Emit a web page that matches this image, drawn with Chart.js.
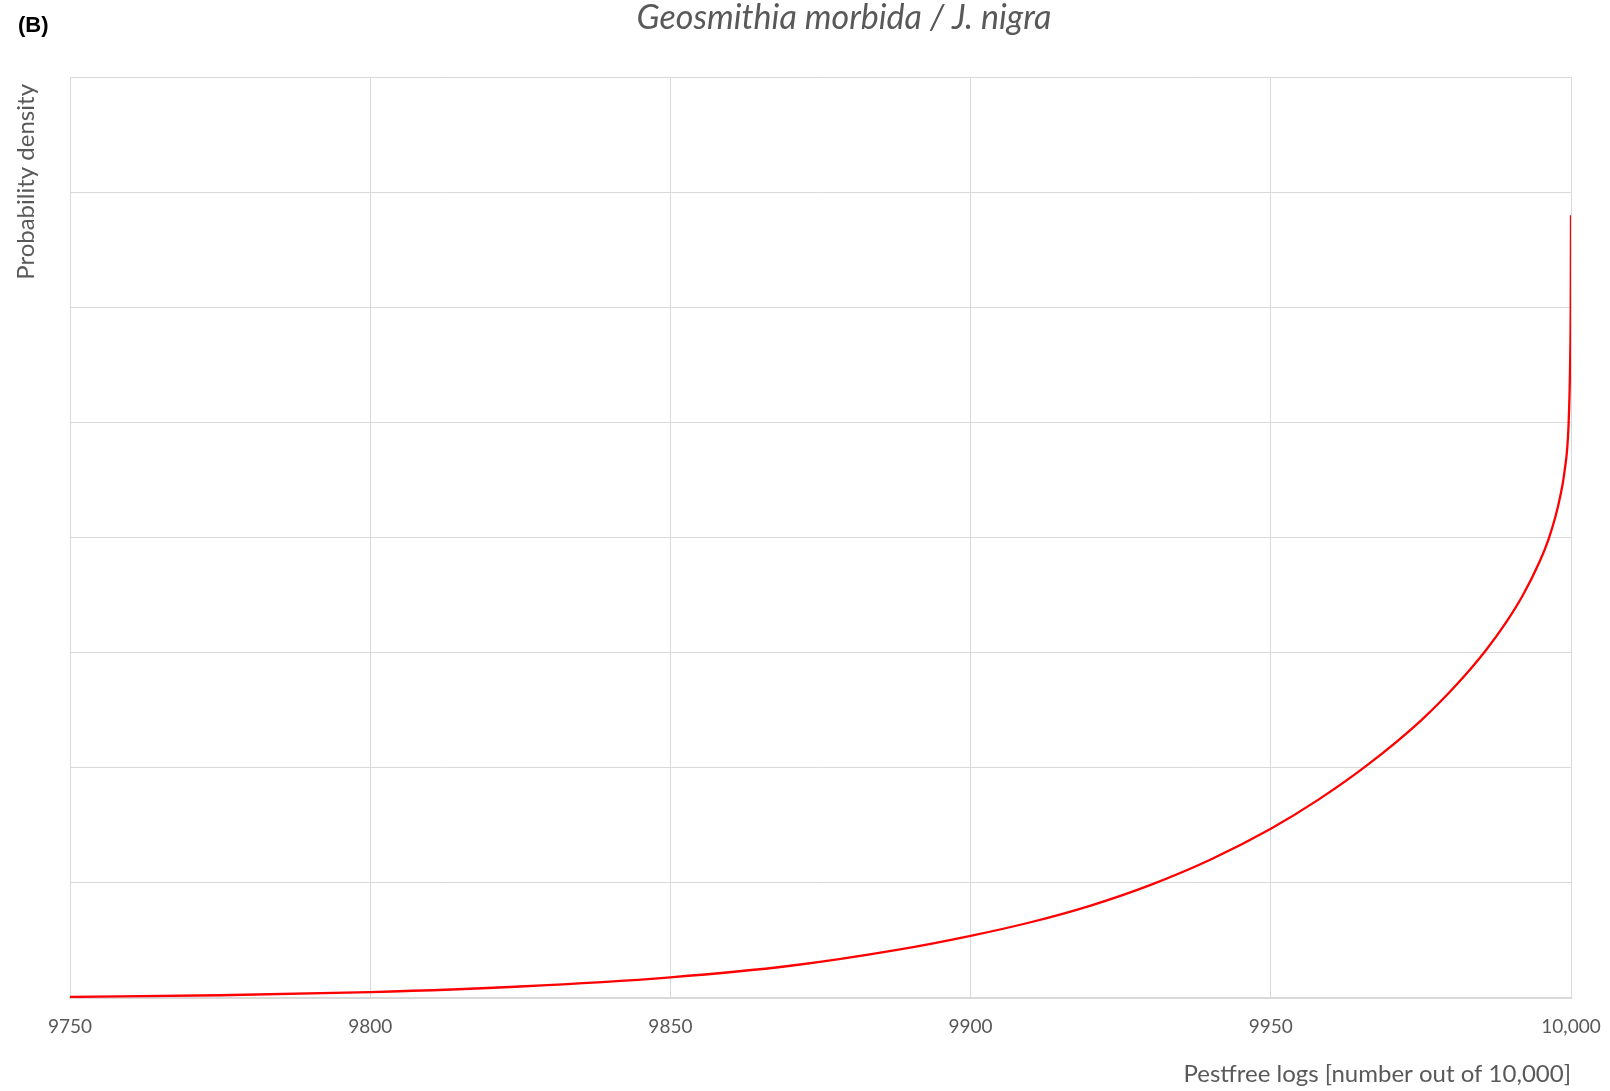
<!DOCTYPE html>
<html>
<head>
<meta charset="utf-8">
<script src="https://cdn.jsdelivr.net/npm/chart.js@4.4.1/dist/chart.umd.min.js"></script>
<style>
  html, body { margin:0; padding:0; background:#fff; }
  #wrap { width:1610px; height:1091px; }
</style>
</head>
<body>
<div id="wrap"><canvas id="densChart" width="1610" height="1091"></canvas></div>
<script>
// values (y in gridline units, axis has no labels)
const pestfreeLogs = [9750, 9775, 9800, 9825, 9850, 9870, 9888, 9900, 9910, 9920, 9930, 9940, 9950,
  9958, 9966, 9975, 9981, 9985.7, 9989.3, 9992, 9994.8, 9996.2, 9997.4, 9998.2, 9998.9,
  9999.6, 9999.85, 9999.95, 10000];
const density = [0.009, 0.024, 0.051, 0.1, 0.18, 0.28, 0.42, 0.54, 0.658, 0.803, 0.983, 1.203, 1.47,
  1.725, 2.02, 2.41, 2.725, 3.012, 3.271, 3.5, 3.794, 3.976, 4.18, 4.356, 4.566,
  4.986, 5.5, 6.0, 6.8];
const xTicks = [9750, 9800, 9850, 9900, 9950, 10000];
const xTickLabels = ['9750', '9800', '9850', '9900', '9950', '10,000'];

const chartTitle = 'Geosmithia morbida / J. nigra';
const panelLabel = '(B)';
const xTitle = 'Pestfree logs [number out of 10,000]';
const yTitle = 'Probability density';

const grey = '#595959';
const gridCol = '#d9d9d9';

const headings = {
  id: 'headings',
  afterDraw(c) {
    const ctx = c.ctx;
    ctx.save();
    ctx.fillStyle = grey;
    ctx.font = 'italic 34px Lato';
    ctx.textAlign = 'center';
    ctx.textBaseline = 'alphabetic';
    ctx.fillText(chartTitle, 844, 29);
    // y axis title, rotated, starting a little below the plot top
    ctx.save();
    ctx.translate(26, c.chartArea.top + 7);
    ctx.rotate(-Math.PI / 2);
    ctx.font = '24px Lato';
    ctx.textAlign = 'right';
    ctx.textBaseline = 'middle';
    ctx.fillText(yTitle, 0, 0);
    ctx.restore();
    ctx.fillStyle = '#000';
    ctx.font = 'bold 22px "Liberation Sans"';
    ctx.textAlign = 'left';
    ctx.textBaseline = 'middle';
    ctx.fillText(panelLabel, 18, 26);
    ctx.restore();
  }
};

new Chart(document.getElementById('densChart'), {
  type: 'line',
  data: {
    datasets: [{
      data: pestfreeLogs.map((x, i) => ({ x, y: density[i] })),
      borderColor: '#ff0000', borderWidth: 2.3, pointRadius: 0,
      fill: false, cubicInterpolationMode: 'monotone'
    }]
  },
  options: {
    responsive: false, animation: false, devicePixelRatio: 1,
    layout: { padding: { top: 77, right: 39, left: 0, bottom: 0 } },
    plugins: { legend: { display: false }, tooltip: { enabled: false } },
    scales: {
      x: {
        type: 'linear', min: 9750, max: 10000,
        afterBuildTicks: s => { s.ticks = xTicks.map(v => ({ value: v })); },
        afterFit: s => { s.height = 93; s.paddingLeft = 0; s.paddingRight = 0; },
        grid: { color: gridCol, lineWidth: 1, drawTicks: false },
        border: { color: gridCol, width: 2 },
        ticks: {
          color: grey, font: { family: 'Lato', size: 19 }, padding: 17, maxRotation: 0,
          callback: v => xTickLabels[xTicks.indexOf(v)]
        },
        title: {
          display: true, text: xTitle, align: 'end', color: grey,
          font: { family: 'Lato', size: 24 }, padding: { top: 0, bottom: 2 }
        }
      },
      y: {
        min: 0, max: 8,
        ticks: { display: false, stepSize: 1 },
        afterFit: s => { s.width = 70; },
        grid: { color: gridCol, lineWidth: 1, drawTicks: false },
        border: { display: false }
      }
    }
  },
  plugins: [headings]
});
</script>
</body>
</html>
